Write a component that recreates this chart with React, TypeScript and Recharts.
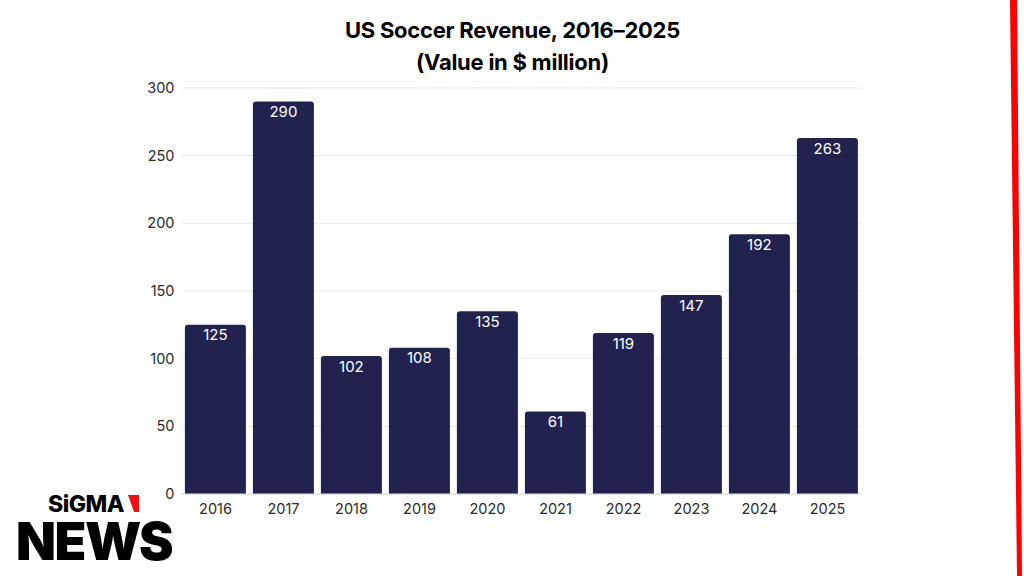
import React from 'react';
import { BarChart, Bar, XAxis, YAxis, CartesianGrid, LabelList } from 'recharts';

const years = ['2016', '2017', '2018', '2019', '2020', '2021', '2022', '2023', '2024', '2025'];
const revenue = [125, 290, 102, 108, 135, 61, 119, 147, 192, 263];
const yTicks = [0, 50, 100, 150, 200, 250, 300];

const data = years.map((year, i) => ({ year, revenue: revenue[i] }));

const FONT = 'Inter, "Noto Sans", sans-serif';

export default function App() {
  return (
    <div style={{ position: 'absolute', left: 0, top: 0, width: 1024, height: 576, background: '#ffffff', fontFamily: FONT, overflow: 'hidden' }}>
      <BarChart
        width={1024}
        height={576}
        data={data}
        margin={{ top: 88, right: 162.5, bottom: 52, left: 0 }}
        barCategoryGap="5%"
      >
        <CartesianGrid vertical={false} stroke="#e8e8e8" />
        <XAxis
          dataKey="year"
          height={30}
          tickLine={false}
          axisLine={{ stroke: '#dddddd' }}
          tick={{ fill: '#2a2a2a', fontSize: 14.5, fontFamily: FONT }}
          tickMargin={4}
          interval={0}
        />
        <YAxis
          width={181.5}
          domain={[0, 300]}
          ticks={yTicks}
          tickLine={false}
          axisLine={false}
          tick={{ fill: '#2a2a2a', fontSize: 14.5, fontFamily: FONT }}
          tickMargin={1}
        />
        <Bar dataKey="revenue" fill="#22224f" radius={[3, 3, 0, 0]} isAnimationActive={false}>
          <LabelList dataKey="revenue" position="insideTop" offset={5} fill="#ffffff" fontSize={15} fontFamily={FONT} />
        </Bar>
      </BarChart>
      <svg width={1024} height={576} style={{ position: 'absolute', left: 0, top: 0, pointerEvents: 'none' }}>
        <text x={512.5} y={37.5} textAnchor="middle" fontFamily={FONT} fontWeight={700} fontSize={22} letterSpacing={-0.25} fill="#000000">
          US Soccer Revenue, 2016–2025
        </text>
        <text x={512.5} y={70} textAnchor="middle" fontFamily={FONT} fontWeight={700} fontSize={22} letterSpacing={-0.25} fill="#000000">
          (Value in $ million)
        </text>
        <polygon points="1010,0 1017,0 1022,576 1017,576" fill="#ff0000" />
        <text x={48} y={512} fontFamily={FONT} fontWeight={800} fontSize={23} letterSpacing={-0.5} fill="#000000">
          SiGMA
        </text>
        <polygon points="128,495 139,495 139,512 134,512" fill="#ee1111" />
        <text x={16} y={560} fontFamily={FONT} fontWeight={900} fontSize={52} letterSpacing={-1.5} fill="#000000">
          NEWS
        </text>
      </svg>
    </div>
  );
}
